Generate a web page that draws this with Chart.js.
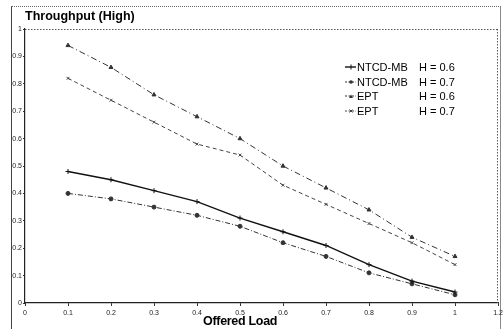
<!DOCTYPE html>
<html><head><meta charset="utf-8">
<script src="https://cdn.jsdelivr.net/npm/chart.js@4/dist/chart.umd.min.js"></script>
<style>
html,body{margin:0;padding:0;background:#fff;}
#wrap{position:relative;width:503px;height:329px;overflow:hidden;font-family:"Liberation Sans",Arial,sans-serif;}
canvas{position:absolute;left:0;top:0;}
#frame{position:absolute;left:11px;top:6px;width:488px;height:340px;border-left:1px solid #444;border-top:1px dotted #666;border-right:1px solid #888;}
#xt{position:absolute;left:203px;top:314px;font:bold 12.5px "Liberation Sans",Arial,sans-serif;color:#000;letter-spacing:-0.3px;}
#leg{position:absolute;left:345px;top:60px;font:11px "Liberation Sans",Arial,sans-serif;color:#000;}
#leg div{height:14.5px;line-height:14.5px;white-space:nowrap;position:relative;}
#leg svg{position:absolute;left:0;top:4px;}
#leg .a{position:absolute;left:12px;}
#leg .b{position:absolute;left:74px;}
</style></head>
<body><div id="wrap">
<div id="frame"></div>
<canvas id="c" width="503" height="329"></canvas>
<div id="xt">Offered Load</div>
<div id="leg"></div>
</div>
<script>
const categories = ['0','0.1','0.2','0.3','0.4','0.5','0.6','0.7','0.8','0.9','1','1.2'];
const seriesNames = ['NTCD-MB', 'NTCD-MB', 'EPT', 'EPT'];
const seriesH = ['H = 0.6', 'H = 0.7', 'H = 0.6', 'H = 0.7'];
const ntcdH06 = [null,0.48,0.45,0.41,0.37,0.31,0.26,0.21,0.14,0.08,0.04,null];
const ntcdH07 = [null,0.40,0.38,0.35,0.32,0.28,0.22,0.17,0.11,0.07,0.03,null];
const eptH06  = [null,0.94,0.86,0.76,0.68,0.60,0.50,0.42,0.34,0.24,0.17,null];
const eptH07  = [null,0.82,0.74,0.66,0.58,0.54,0.43,0.36,0.29,0.22,0.14,null];
const yTicks = [0,0.1,0.2,0.3,0.4,0.5,0.6,0.7,0.8,0.9,1];

const styles = [
  {color:'#111', width:1.4, dash:[], point:'cross', r:2.5},
  {color:'#333', width:1, dash:[5,2,1,2], point:'circle', r:2},
  {color:'#333', width:1, dash:[6,3,1,3], point:'triangle', r:2.3},
  {color:'#444', width:1, dash:[4,3], point:'crossRot', r:2}
];
const allData = [ntcdH06, ntcdH07, eptH06, eptH07];

const datasets = allData.map((d,i)=>({
  label: seriesNames[i]+' '+seriesH[i],
  data: d,
  borderColor: styles[i].color,
  backgroundColor: styles[i].color,
  borderWidth: styles[i].width,
  borderDash: styles[i].dash,
  pointStyle: styles[i].point,
  pointRadius: styles[i].r,
  pointBorderWidth: 1,
  tension: 0,
  spanGaps: false
}));

// HTML legend
const leg = document.getElementById('leg');
styles.forEach((s,i)=>{
  const row = document.createElement('div');
  let mk = '';
  if (s.point==='circle') mk = '<circle cx="6" cy="3" r="1.8" fill="'+s.color+'"/>';
  else if (s.point==='triangle') mk = '<polygon points="4,5 8,5 6,1.5" fill="'+s.color+'"/>';
  else if (s.point==='cross') mk = '<line x1="6" y1="0.5" x2="6" y2="5.5" stroke="'+s.color+'" stroke-width="1"/>';
  else mk = '<line x1="4.5" y1="1.5" x2="7.5" y2="4.5" stroke="'+s.color+'"/><line x1="7.5" y1="1.5" x2="4.5" y2="4.5" stroke="'+s.color+'"/>';
  row.innerHTML = '<svg width="11" height="6"><line x1="0" y1="3" x2="11" y2="3" stroke="'+s.color+'" stroke-width="'+s.width+'" stroke-dasharray="'+(s.dash.length? '2,1.5':'')+'"/>'+mk+'</svg>'+
    '<span class="a">'+seriesNames[i]+'</span><span class="b">'+seriesH[i]+'</span>';
  leg.appendChild(row);
});

const dottedBox = {
  id:'dottedBox',
  beforeDatasetsDraw(chart){
    const {ctx, chartArea:{left,right,top,bottom}} = chart;
    ctx.save();
    ctx.strokeStyle = '#555';
    ctx.lineWidth = 1;
    ctx.setLineDash([1.5,1.5]);
    ctx.beginPath();
    ctx.moveTo(left, top+0.5); ctx.lineTo(right, top+0.5);
    ctx.moveTo(right-0.5, top); ctx.lineTo(right-0.5, bottom);
    ctx.stroke();
    ctx.restore();
  }
};

new Chart(document.getElementById('c'), {
  type:'line',
  data:{labels:categories, datasets},
  options:{
    responsive:false,
    animation:false,
    layout:{padding:{left:11, right:5, top:0, bottom:0}},
    plugins:{
      legend:{display:false},
      tooltip:{enabled:false},
      title:{display:true, text:'Throughput (High)', align:'start', fullSize:false,
        color:'#000', font:{family:'"Liberation Sans", Arial, sans-serif', size:12.5, weight:'bold'},
        padding:{top:9, bottom:5}}
    },
    scales:{
      x:{
        type:'category', offset:false,
        grid:{display:true, drawOnChartArea:false, drawTicks:true, tickLength:3, color:'#333'},
        border:{display:true, color:'#222', width:1.2},
        ticks:{color:'#222', font:{family:'"Liberation Sans", Arial, sans-serif', size:7}, padding:3, maxRotation:0, autoSkip:false},
        afterFit(s){ s.height = 26; s.paddingLeft = 0; s.paddingRight = 0; }
      },
      y:{
        min:0, max:1,
        afterBuildTicks(s){ s.ticks = yTicks.map(v=>({value:v})); },
        grid:{display:true, drawOnChartArea:false, drawTicks:true, tickLength:2, color:'#333'},
        border:{display:true, color:'#222', width:1.2},
        ticks:{color:'#222', font:{family:'"Liberation Sans", Arial, sans-serif', size:7}, padding:1,
          callback:(v)=> v===0?'0':(v===1?'1':Number(v).toFixed(1))},
        afterFit(s){ s.width = 14; s.paddingTop = 0; s.paddingBottom = 0; }
      }
    }
  },
  plugins:[dottedBox]
});
</script>
</body></html>
